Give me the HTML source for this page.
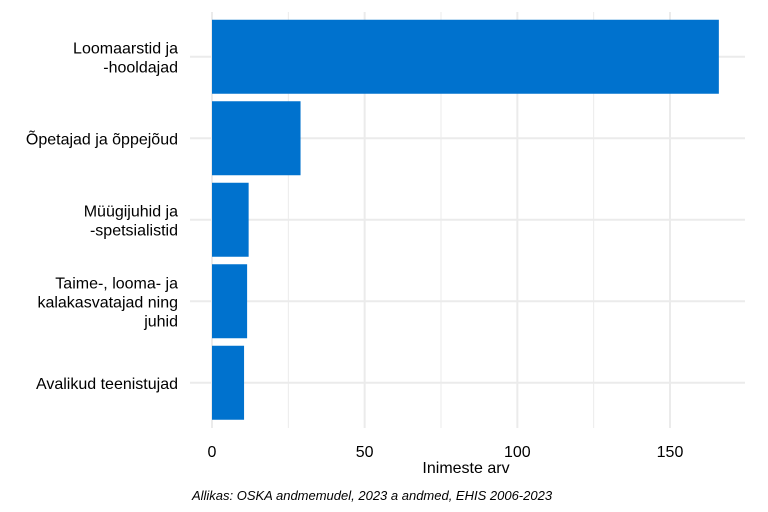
<!DOCTYPE html>
<html><head><meta charset="utf-8">
<style>
body{margin:0;background:#fff;}
svg{display:block;font-family:"Liberation Sans",Arial,sans-serif;}
</style></head>
<body>
<svg id="chart" width="768" height="512" viewBox="0 0 768 512">
<g id="grid"></g>
<g id="bars"></g>
<g id="ylabels"></g>
<g id="xlabels"></g>
<text x="466" y="473" text-anchor="middle" font-size="16" fill="#000">Inimeste arv</text>
<text x="372" y="500" text-anchor="middle" font-size="13" font-style="italic" fill="#000">Allikas: OSKA andmemudel, 2023 a andmed, EHIS 2006-2023</text>
</svg>
<script>
const categories = [["Loomaarstid ja","-hooldajad"],["Õpetajad ja õppejõud"],["Müügijuhid ja","-spetsialistid"],["Taime-, looma- ja","kalakasvatajad ning","juhid"],["Avalikud teenistujad"]];
const values = [166, 29, 12, 11.5, 10.5];
const xTicks = [0, 50, 100, 150];
const xMinor = [25, 75, 125];

const NS="http://www.w3.org/2000/svg";
const x0=212, pxPerUnit=458/150, topY=16, step=81.5, barH=74, leftX=190, rightX=745, bottomY=428;
const xs=v=>x0+v*pxPerUnit;
const yc=i=>topY+step*i+step/2;
function mk(t,a,p){const e=document.createElementNS(NS,t);for(const k in a)e.setAttribute(k,a[k]);p.appendChild(e);return e;}
const grid=document.getElementById('grid'),bars=document.getElementById('bars'),yl=document.getElementById('ylabels'),xl=document.getElementById('xlabels');
xMinor.forEach(v=>{const l=mk('line',{x1:xs(v),x2:xs(v),y1:topY-4,y2:bottomY,stroke:'#ebebeb','stroke-width':1},grid);

});
xTicks.forEach(v=>{const l=mk('line',{x1:xs(v),x2:xs(v),y1:topY-4,y2:bottomY,stroke:'#ebebeb','stroke-width':2},grid);


const t=mk('text',{x:xs(v),y:457,'text-anchor':'middle','font-size':16,fill:'#000'},xl);t.textContent=v;

});
categories.forEach((c,i)=>{const l=mk('line',{x1:leftX,x2:rightX,y1:yc(i),y2:yc(i),stroke:'#ebebeb','stroke-width':2},grid);

});
values.forEach((v,i)=>{const r=mk('rect',{x:x0,y:yc(i)-barH/2,width:xs(v)-x0,height:barH,fill:'#0072ce'},bars);

});
categories.forEach((c,i)=>{const t=mk('text',{'text-anchor':'end','font-size':16,fill:'#000'},yl);


const lh=19, y0=yc(i)-(c.length-1)*lh/2+6;
c.forEach((s,j)=>{const ts=mk('tspan',{x:178,y:y0+j*lh},t);ts.textContent=s;});});
</script>
</body></html>
